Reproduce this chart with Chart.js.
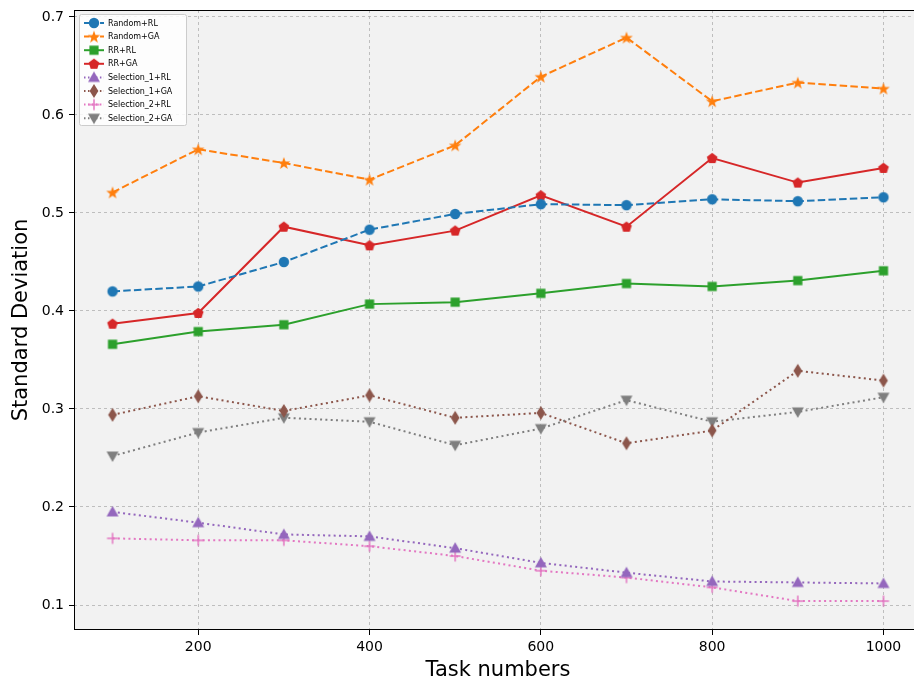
<!DOCTYPE html>
<html>
<head>
<meta charset="utf-8">
<script src="https://cdn.jsdelivr.net/npm/chart.js@4.4.1/dist/chart.umd.min.js"></script>
<style>
  html, body { margin: 0; padding: 0; background: #ffffff; overflow: hidden; }
  #wrap { width: 914px; height: 683px; position: relative; overflow: hidden; }
  #chart { position: absolute; left: 0; top: 0; width: 922px; height: 683px; }
</style>
</head>
<body>
<div id="wrap"><canvas id="chart" width="922" height="683"></canvas></div>
<script>
// Task counts on the x axis
const taskNumbers = [100, 200, 300, 400, 500, 600, 700, 800, 900, 1000];

// Standard deviation per method
const randomRL    = [0.420, 0.425, 0.450, 0.483, 0.499, 0.509, 0.508, 0.514, 0.512, 0.516];
const randomGA    = [0.521, 0.565, 0.551, 0.534, 0.569, 0.639, 0.679, 0.614, 0.633, 0.627];
const rrRL        = [0.366, 0.379, 0.386, 0.407, 0.409, 0.418, 0.428, 0.425, 0.431, 0.441];
const rrGA        = [0.387, 0.398, 0.486, 0.467, 0.482, 0.518, 0.486, 0.556, 0.531, 0.546];
const selection1RL = [0.195, 0.184, 0.172, 0.170, 0.158, 0.143, 0.133, 0.124, 0.123, 0.122];
const selection1GA = [0.294, 0.313, 0.298, 0.314, 0.291, 0.296, 0.265, 0.278, 0.339, 0.329];
const selection2RL = [0.168, 0.166, 0.166, 0.160, 0.150, 0.135, 0.128, 0.118, 0.104, 0.104];
const selection2GA = [0.252, 0.276, 0.291, 0.287, 0.263, 0.280, 0.309, 0.287, 0.297, 0.312];

const seriesNames = ['Random+RL', 'Random+GA', 'RR+RL', 'RR+GA',
  'Selection_1+RL', 'Selection_1+GA', 'Selection_2+RL', 'Selection_2+GA'];

const xTicks = [200, 400, 600, 800, 1000];
const yTicks = [0.1, 0.2, 0.3, 0.4, 0.5, 0.6, 0.7];

// Marker images drawn on small canvases
function marker(shape, color, size) {
  const c = document.createElement('canvas');
  const s = size;
  c.width = s; c.height = s;
  const g = c.getContext('2d');
  const cx = s / 2, cy = s / 2;
  g.fillStyle = color;
  g.strokeStyle = color;
  g.beginPath();
  if (shape === 'circle') {
    g.arc(cx, cy, 5.2, 0, Math.PI * 2);
  } else if (shape === 'star') {
    const R = 6.6, r = 2.7;
    for (let i = 0; i < 10; i++) {
      const rad = i % 2 === 0 ? R : r;
      const a = -Math.PI / 2 + i * Math.PI / 5;
      const px = cx + rad * Math.cos(a), py = cy + rad * Math.sin(a) + 0.6;
      i === 0 ? g.moveTo(px, py) : g.lineTo(px, py);
    }
    g.closePath();
  } else if (shape === 'square') {
    g.rect(cx - 4.6, cy - 4.6, 9.2, 9.2);
  } else if (shape === 'pentagon') {
    const R = 5.6;
    for (let i = 0; i < 5; i++) {
      const a = -Math.PI / 2 + i * 2 * Math.PI / 5;
      const px = cx + R * Math.cos(a), py = cy + R * Math.sin(a) + 0.4;
      i === 0 ? g.moveTo(px, py) : g.lineTo(px, py);
    }
    g.closePath();
  } else if (shape === 'triUp') {
    g.moveTo(cx, cy - 6); g.lineTo(cx + 6, cy + 4.5); g.lineTo(cx - 6, cy + 4.5);
    g.closePath();
  } else if (shape === 'triDown') {
    g.moveTo(cx, cy + 6); g.lineTo(cx + 6, cy - 4.5); g.lineTo(cx - 6, cy - 4.5);
    g.closePath();
  } else if (shape === 'thinDiamond') {
    g.moveTo(cx, cy - 7); g.lineTo(cx + 4.4, cy); g.lineTo(cx, cy + 7); g.lineTo(cx - 4.4, cy);
    g.closePath();
  } else if (shape === 'plus') {
    g.lineWidth = 1.5;
    g.moveTo(cx - 5.5, cy); g.lineTo(cx + 5.5, cy);
    g.moveTo(cx, cy - 5.5); g.lineTo(cx, cy + 5.5);
    g.stroke();
    return c;
  }
  g.fill();
  return c;
}

const colors = ['#1f77b4', '#ff7f0e', '#2ca02c', '#d62728', '#9467bd', '#8c564b', '#e377c2', '#7f7f7f'];
const shapes = ['circle', 'star', 'square', 'pentagon', 'triUp', 'thinDiamond', 'plus', 'triDown'];
const dashes = [[7.5, 3.2], [7.5, 3.2], [], [], [2, 3.3], [2, 3.3], [2, 3.3], [2, 3.3]];
const values = [randomRL, randomGA, rrRL, rrGA, selection1RL, selection1GA, selection2RL, selection2GA];

const datasets = seriesNames.map((name, i) => ({
  label: name,
  data: taskNumbers.map((x, j) => ({ x: x, y: values[i][j] })),
  borderColor: colors[i],
  backgroundColor: colors[i],
  borderWidth: 2,
  borderDash: dashes[i],
  pointStyle: marker(shapes[i], colors[i], 16),
  pointRadius: 5,
  pointHoverRadius: 5,
  tension: 0,
  fill: false
}));

// Plot background, full frame and the boxed legend inside the top-left corner
const framePlugin = {
  id: 'frame',
  beforeDraw(chart) {
    const { ctx, chartArea: a } = chart;
    ctx.save();
    ctx.fillStyle = '#f2f2f2';
    ctx.fillRect(a.left, a.top, a.right - a.left, a.bottom - a.top);
    ctx.restore();
  },
  afterDraw(chart) {
    const { ctx, chartArea: a } = chart;
    ctx.save();
    ctx.strokeStyle = '#000';
    ctx.lineWidth = 1;
    ctx.strokeRect(a.left + 0.5, a.top + 0.5, a.right - a.left - 1, a.bottom - a.top - 1);

    // legend
    const bx = a.left + 5, by = a.top + 4, bw = 107, bh = 111;
    ctx.fillStyle = 'rgba(255,255,255,0.85)';
    ctx.strokeStyle = '#cccccc';
    ctx.lineWidth = 1;
    ctx.beginPath();
    if (ctx.roundRect) ctx.roundRect(bx + 0.5, by + 0.5, bw, bh, 2); else ctx.rect(bx + 0.5, by + 0.5, bw, bh);
    ctx.fill();
    ctx.stroke();
    ctx.font = '8px "DejaVu Sans"';
    ctx.textBaseline = 'middle';
    ctx.fillStyle = '#000';
    chart.data.datasets.forEach((ds, i) => {
      const yy = by + 9 + i * 13.6;
      ctx.save();
      ctx.strokeStyle = ds.borderColor;
      ctx.lineWidth = 2;
      ctx.setLineDash(ds.borderDash.length ? ds.borderDash.map(v => v * 0.75) : []);
      ctx.beginPath();
      ctx.moveTo(bx + 5, yy);
      ctx.lineTo(bx + 25, yy);
      ctx.stroke();
      ctx.restore();
      const img = ds.pointStyle;
      ctx.drawImage(img, bx + 15 - img.width / 2, yy - img.height / 2);
      ctx.fillStyle = '#000';
      ctx.fillText(ds.label, bx + 29, yy + 0.5);
    });
    ctx.restore();
  }
};

new Chart(document.getElementById('chart'), {
  type: 'line',
  data: { datasets: datasets },
  plugins: [framePlugin],
  options: {
    responsive: false,
    animation: false,
    events: [],
    layout: { autoPadding: false, padding: { top: 10, right: 0, left: 0, bottom: 0 } },
    plugins: { legend: { display: false }, tooltip: { enabled: false } },
    scales: {
      x: {
        type: 'linear',
        min: 55,
        max: 1045,
        afterBuildTicks(axis) { axis.ticks = xTicks.map(v => ({ value: v })); },
        afterFit(axis) { axis.height = 53; axis.paddingRight = 0; axis.paddingLeft = 0; },
        grid: {
          color: '#b0b0b0', lineWidth: 0.8,
          drawTicks: true, tickLength: 5, tickColor: '#000', tickBorderDash: [], tickWidth: 1
        },
        border: { display: false, dash: [3, 3] },
        ticks: {
          color: '#000', font: { family: 'DejaVu Sans', size: 14 }, padding: 4, maxRotation: 0,
          callback: v => String(v)
        },
        title: { display: true, text: 'Task numbers', color: '#000', font: { family: 'DejaVu Sans', size: 21 }, padding: { top: 2, bottom: 0 } }
      },
      y: {
        type: 'linear',
        min: 0.0745,
        max: 0.7071,
        afterBuildTicks(axis) { axis.ticks = yTicks.map(v => ({ value: v })); },
        afterFit(axis) { axis.width = 74; axis.paddingTop = 0; axis.paddingBottom = 0; },
        grid: {
          color: '#b0b0b0', lineWidth: 0.8,
          drawTicks: true, tickLength: 5, tickColor: '#000', tickBorderDash: [], tickWidth: 1
        },
        border: { display: false, dash: [3, 3] },
        ticks: {
          color: '#000', font: { family: 'DejaVu Sans', size: 14 }, padding: 5,
          callback: v => v.toFixed(1)
        },
        title: { display: true, text: 'Standard Deviation', color: '#000', font: { family: 'DejaVu Sans', size: 21 }, padding: { top: 9, bottom: 0 } }
      }
    }
  }
});
</script>
</body>
</html>
